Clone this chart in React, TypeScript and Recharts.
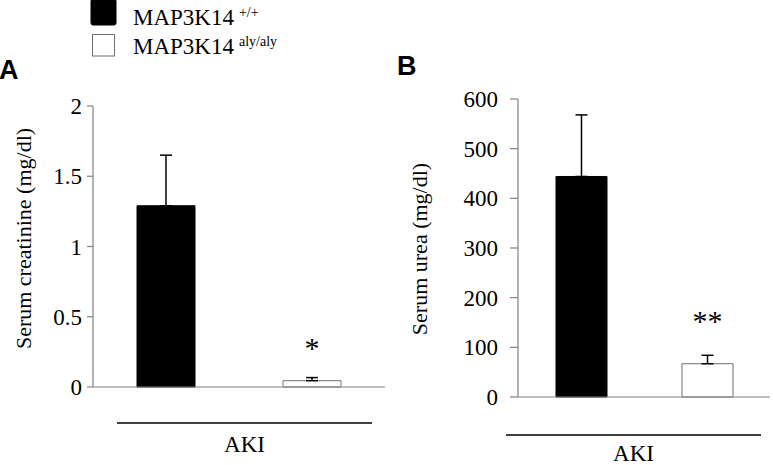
import { BarChart, Bar, XAxis, YAxis, ErrorBar, Cell, LabelList } from 'recharts';

// groups / legend
const geneName = 'MAP3K14';
const genotypes = ['+/+', 'aly/aly'];
const barColors = ['#000000', '#ffffff'];
const barStrokes = ['#000000', '#6f6f6f'];
const groupLabel = 'AKI';

// panel A - serum creatinine
const creatinineValues = [1.29, 0.045];
const creatinineErrors = [0.36, 0.022];
const creatinineSig = ['', '*'];
const creatinineTicks = [0, 0.5, 1, 1.5, 2];

// panel B - serum urea
const ureaValues = [444, 67];
const ureaErrors = [124, 17];
const ureaSig = ['', '**'];
const ureaTicks = [0, 100, 200, 300, 400, 500, 600];

const SERIF = '"Liberation Serif", "Times New Roman", serif';
const SANS = '"Liberation Sans", Arial, sans-serif';
const AXIS = '#808080';

const serif = (size: number) => ({ fontFamily: SERIF, fontSize: size, fill: '#000' });

const buildData = (values: number[], errors: number[], sig: string[]) =>
    genotypes.map((g, i) => ({ name: g, value: values[i], err: [0, errors[i]], sig: sig[i] }));

interface PanelProps {
    data: any[];
    ticks: number[];
    title: string;
    width: number;
    top: number;
    right: number;
    yAxisWidth: number;
    xAxisHeight: number;
    barSize: number;
    yTickSize: number;
    yTickMargin: number;
    titleX: number;
    titleShift: number;
    starOffset: number;
    akiStart: number;
    akiEnd: number;
    akiLineY: number;
    akiTextY: number;
}

// y tick label in the serif font
const SerifTick = (props: any) => {
    const { x, y, payload } = props;
    return (
        <text x={x} y={y} dy="0.35em" textAnchor="end" style={serif(23)}>
            {payload.value}
        </text>
    );
};

const Panel = (p: PanelProps) => {
    const maxTick = p.ticks[p.ticks.length - 1];
    return (
        <BarChart
            width={p.width}
            height={465}
            data={p.data}
            margin={{ top: p.top, right: p.right, bottom: 0, left: 0 }}
            barCategoryGap="0%"
        >
            <XAxis
                xAxisId="num"
                type="number"
                domain={[0, 2]}
                ticks={[0, 1, 2]}
                allowDataOverflow
                height={p.xAxisHeight}
                axisLine={{ stroke: AXIS, strokeWidth: 1.2 }}
                tickLine={{ stroke: AXIS, strokeWidth: 1.2 }}
                tickSize={6}
                tick={false}
                label={{
                    content: (props: any) => {
                        const vb = props.viewBox;
                        const x1 = vb.x + p.akiStart;
                        const x2 = vb.x + vb.width - p.akiEnd;
                        return (
                            <g>
                                <line x1={x1} x2={x2} y1={vb.y + p.akiLineY} y2={vb.y + p.akiLineY} stroke="#000" strokeWidth={1.4} />
                                <text x={(x1 + x2) / 2} y={vb.y + p.akiTextY} textAnchor="middle" style={serif(23)}>
                                    {groupLabel}
                                </text>
                            </g>
                        );
                    },
                }}
            />
            <XAxis xAxisId="cat" dataKey="name" hide height={0} />
            <YAxis
                domain={[0, maxTick]}
                ticks={p.ticks}
                width={p.yAxisWidth}
                axisLine={{ stroke: AXIS, strokeWidth: 1.2 }}
                tickLine={{ stroke: AXIS, strokeWidth: 1.2 }}
                tickSize={p.yTickSize}
                tickMargin={p.yTickMargin}
                tick={<SerifTick />}
                label={{
                    content: (props: any) => {
                        const vb = props.viewBox;
                        const cx = vb.x + p.titleX;
                        const cy = vb.y + vb.height / 2 + p.titleShift;
                        return (
                            <text x={cx} y={cy} transform={`rotate(-90 ${cx} ${cy})`} textAnchor="middle" style={serif(22)}>
                                {p.title}
                            </text>
                        );
                    },
                }}
            />
            <Bar xAxisId="cat" dataKey="value" barSize={p.barSize} isAnimationActive={false}>
                {p.data.map((_, i) => (
                    <Cell key={i} fill={barColors[i]} stroke={barStrokes[i]} strokeWidth={1} />
                ))}
                <ErrorBar dataKey="err" direction="y" width={6} stroke="#000" strokeWidth={1.5} isAnimationActive={false} />
                <LabelList
                    dataKey="sig"
                    content={(props: any) => {
                        if (!props.value) return null;
                        return (
                            <text x={props.x + props.width / 2} y={props.y - p.starOffset} textAnchor="middle" style={serif(30)}>
                                {props.value}
                            </text>
                        );
                    }}
                />
            </Bar>
        </BarChart>
    );
};

export default function App() {
    const creatinineData = buildData(creatinineValues, creatinineErrors, creatinineSig);
    const ureaData = buildData(ureaValues, ureaErrors, ureaSig);

    return (
        <div style={{ position: 'absolute', left: 0, top: 0, width: 773, height: 465, background: '#fff', overflow: 'hidden' }}>
            {/* Legend */}
            <svg width={400} height={70} style={{ position: 'absolute', left: 0, top: 0 }}>
                {genotypes.map((g, i) => (
                    <g key={g}>
                        <rect
                            x={i === 0 ? 91 : 92.5} y={i === 0 ? -1 : 34.5}
                            width={i === 0 ? 25 : 22} height={i === 0 ? 26 : 21.5}
                            rx={i === 0 ? 2 : 0}
                            fill={barColors[i]} stroke={barStrokes[i]} strokeWidth={1}
                        />
                        <text x={133} y={i === 0 ? 25 : 54} style={serif(23)}>
                            {geneName}
                            <tspan dx={5} dy={-8} style={{ fontSize: 14 }}>{g}</tspan>
                        </text>
                    </g>
                ))}
            </svg>

            {/* Panel letters */}
            <div style={{ position: 'absolute', left: -1, top: 55, fontFamily: SANS, fontWeight: 'bold', fontSize: 27, lineHeight: '30px' }}>A</div>
            <div style={{ position: 'absolute', left: 397, top: 51, fontFamily: SANS, fontWeight: 'bold', fontSize: 27, lineHeight: '30px' }}>B</div>

            <div style={{ position: 'absolute', left: 0, top: 0 }}>
                <Panel
                    data={creatinineData}
                    ticks={creatinineTicks}
                    title="Serum creatinine (mg/dl)"
                    width={390}
                    top={106}
                    right={5}
                    yAxisWidth={93}
                    xAxisHeight={78}
                    barSize={58}
                    yTickSize={6}
                    yTickMargin={5}
                    titleX={31}
                    titleShift={-8}
                    starOffset={23}
                    akiStart={24}
                    akiEnd={13}
                    akiLineY={36}
                    akiTextY={65}
                />
            </div>
            <div style={{ position: 'absolute', left: 390, top: 0 }}>
                <Panel
                    data={ureaData}
                    ticks={ureaTicks}
                    title="Serum urea (mg/dl)"
                    width={383}
                    top={99}
                    right={3}
                    yAxisWidth={128}
                    xAxisHeight={68}
                    barSize={51}
                    yTickSize={8}
                    yTickMargin={12}
                    titleX={37}
                    titleShift={1}
                    starOffset={33}
                    akiStart={-12}
                    akiEnd={9}
                    akiLineY={38}
                    akiTextY={64}
                />
            </div>
        </div>
    );
}
